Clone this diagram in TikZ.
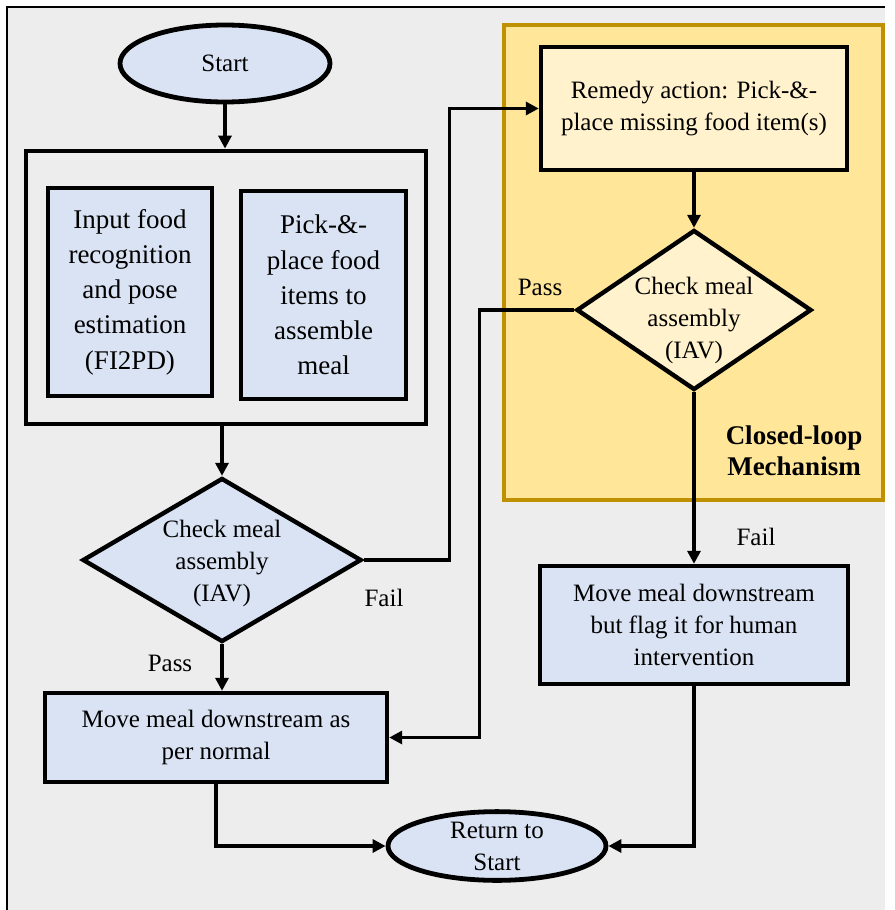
\documentclass[tikz,border=0pt]{standalone}
\usepackage{fontspec}
\setmainfont{Liberation Serif}
\usetikzlibrary{shapes.geometric,arrows.meta}
\definecolor{bgGray}{HTML}{EDEDED}
\definecolor{boxBlue}{HTML}{DAE3F3}
\definecolor{loopYellow}{HTML}{FFE699}
\definecolor{remedyYellow}{HTML}{FFF2CC}
\definecolor{loopGold}{HTML}{BF9000}

\begin{document}
\begin{tikzpicture}[x=0.5pt, y=-0.5pt,
    txt/.style={font=\fontsize{12.5}{16}\selectfont, align=center},
    bigtxt/.style={font=\fontsize{13.5}{17.6}\selectfont, align=center},
    box/.style={draw, line width=2.2pt, fill=boxBlue, inner sep=0pt},
    terminal/.style={ellipse, draw, line width=2.4pt, fill=boxBlue, txt, inner sep=0pt},
    decision/.style={diamond, draw, line width=2.2pt, fill=boxBlue, inner sep=0pt},
    arrow/.style={-{Triangle[length=6.5pt,width=6.5pt]}, line width=1.6pt},
    flow/.style={line width=1.6pt}]
    \useasboundingbox (0,0) rectangle (894,910);
    % Page background and frame
    \fill[white] (0,0) rectangle (894,910);
    \fill[bgGray] (7,7) rectangle (885,910);
    \draw[line width=1pt] (7,910) -- (7,7) -- (885,7);

    % Closed-loop region
    \draw[loopGold, line width=2.2pt, fill=loopYellow] (504,25) rectangle (883,500);
    \node[font=\bfseries\fontsize{13.5}{15.5}\selectfont, align=center] (looplabel) at (794,451) {Closed-loop\\Mechanism};

    % Start
    \node[terminal, minimum width=105pt, minimum height=38.5pt] (start) at (225,63.5) {Start};

    % Assembly stage with its two steps
    \node[draw, line width=2.4pt, minimum width=200pt, minimum height=136.5pt] (stage) at (226,287.5) {};
    \node[box, bigtxt, minimum width=82pt, minimum height=104pt] (recog) at (130,292) {Input food\\recognition\\and pose\\estimation\\(FI2PD)};
    \node[box, bigtxt, minimum width=82.5pt, minimum height=104pt] (pick) at (323.5,295) {Pick-\&-\\place food\\items to\\assemble\\meal};

    % First check
    \node[decision, minimum width=139.5pt, minimum height=82pt] (check1) at (222,560) {};
    \node[txt] (check1txt) at (222,563) {Check meal\\assembly\\(IAV)};
    \node[txt] (fail1) at (384,598) {Fail};
    \node[txt] (pass1) at (170,663) {Pass};

    % Normal path
    \node[box, txt, minimum width=171pt, minimum height=44.5pt] (normal) at (216,737.5) {Move meal downstream as\\per normal};

    % Remedy loop
    \node[box, txt, fill=remedyYellow, minimum width=153pt, minimum height=61.5pt] (remedy) at (694,108.5) {Remedy action: Pick-\&-\\place missing food item(s)};
    \node[decision, fill=remedyYellow, minimum width=117.5pt, minimum height=80pt] (check2) at (694,310) {};
    \node[txt] (check2txt) at (694,320) {Check meal\\assembly\\(IAV)};
    \node[txt] (pass2) at (540,287) {Pass};
    \node[txt] (fail2) at (756,537) {Fail};

    % Flagged path
    \node[box, txt, minimum width=154pt, minimum height=59pt] (flag) at (694,625) {Move meal downstream\\but flag it for human\\intervention};

    % Return
    \node[terminal, minimum width=109pt, minimum height=34pt] (return) at (497,846) {Return to\\Start};

    % Connectors
    \draw[arrow] (start.south) -- (start.south |- stage.north);
    \draw[arrow] (check1.north |- stage.south) -- (check1.north);
    \draw[arrow] (check1.east) -- ++(86,0) |- (remedy.west);
    \draw[arrow] (check1.south) -- (check1.south |- normal.north);
    \draw[arrow] (remedy.south) -- (check2.north);
    \draw[arrow] (check2.west) -- ++(-95,0) |- (normal.east);
    \draw[arrow] (check2.south) -- (flag.north);
    \draw[arrow] (normal.south) |- (return.west);
    \draw[arrow] (flag.south) |- (return.east);
\end{tikzpicture}
\end{document}
